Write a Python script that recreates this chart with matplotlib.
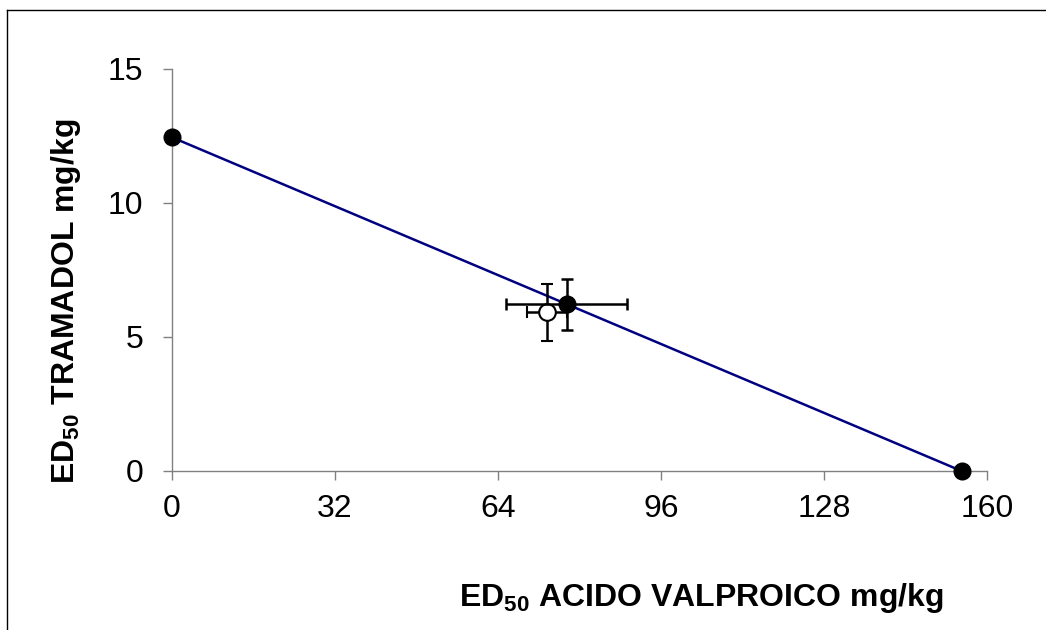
import matplotlib
matplotlib.use("Agg")
import matplotlib.pyplot as plt
from matplotlib.lines import Line2D

plt.rcParams['font.family'] = ['Liberation Sans', 'DejaVu Sans']
plt.rcParams['mathtext.fontset'] = 'custom'
plt.rcParams['mathtext.bf'] = 'Liberation Sans:bold'
plt.rcParams['mathtext.rm'] = 'Liberation Sans'

# isobologram data (mg/kg)
ed50_valproico = 155.0
ed50_tramadol = 12.45

# theoretical additive point (mean, error)
teo_x, teo_y = 77.5, 6.22
teo_xerr, teo_yerr = 11.9, 0.95

# experimental point
exp_x, exp_y = 73.6, 5.92
exp_xerr, exp_yerr = 3.9, 1.06

xticks = [0, 32, 64, 96, 128, 160]
yticks = [0, 5, 10, 15]

fig = plt.figure(figsize=(10.46, 6.30), dpi=100)
ax = fig.add_axes([0.1644, 0.2524, 0.7792, 0.6381])

# additivity line
ax.plot([0, ed50_valproico], [ed50_tramadol, 0], color='#000080', lw=1.8, zorder=2)
ax.plot([0, ed50_valproico], [ed50_tramadol, 0], 'o', color='black', ms=12, zorder=5, clip_on=False)

ax.errorbar(exp_x, exp_y, xerr=exp_xerr, yerr=exp_yerr, fmt='o', mfc='white', mec='black',
            mew=1.5, ms=12, ecolor='black', elinewidth=1.8, capsize=4.5, capthick=1.8, zorder=3)
ax.errorbar(teo_x, teo_y, xerr=teo_xerr, yerr=teo_yerr, fmt='o', color='black',
            ms=12, ecolor='black', elinewidth=1.8, capsize=4.5, capthick=1.8, zorder=4)

ax.set_xlim(0, 160)
ax.set_ylim(0, 15)
ax.set_xticks(xticks)
ax.set_yticks(yticks)
for s in ['top', 'right']:
    ax.spines[s].set_visible(False)
for s in ['left', 'bottom']:
    ax.spines[s].set_color('#808080')
    ax.spines[s].set_linewidth(1.0)
ax.tick_params(axis='both', direction='out', length=6.5, width=1.0, color='#808080',
               labelsize=23)
ax.tick_params(axis='y', pad=14)
ax.tick_params(axis='x', pad=10)

fig.text(0.670, 0.051, r'ED$_{\mathbf{50}}$ ACIDO VALPROICO mg/kg', ha='center', va='center',
         fontsize=23, fontweight='bold')
fig.text(0.063, 0.521, r'ED$_{\mathbf{50}}$ TRAMADOL mg/kg', ha='center', va='center',
         rotation=90, fontsize=23, fontweight='bold')

# frame around figure (left and top edges visible)
fig.add_artist(Line2D([0.0067, 0.0067], [0.984, 0.0], color='black', lw=1.0, transform=fig.transFigure))
fig.add_artist(Line2D([0.0067, 1.0], [0.984, 0.984], color='black', lw=1.0, transform=fig.transFigure))

fig.savefig('out.png', dpi=100)
